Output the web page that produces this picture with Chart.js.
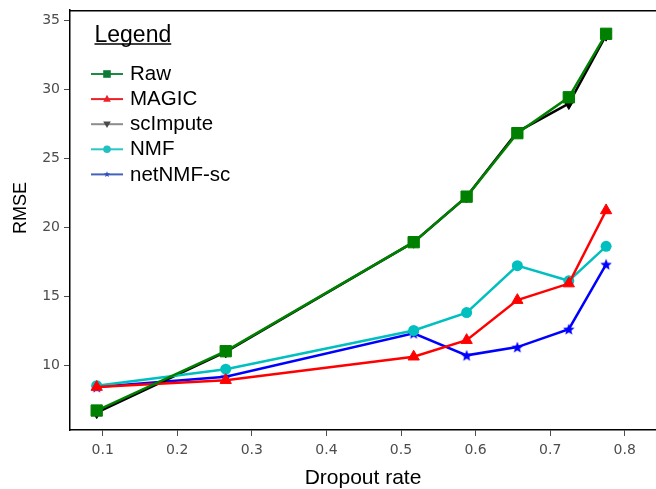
<!DOCTYPE html>
<html>
<head>
<meta charset="utf-8">
<script src="https://cdn.jsdelivr.net/npm/chart.js@4/dist/chart.umd.min.js"></script>
<style>
  html, body { margin: 0; padding: 0; background: #ffffff; }
  #wrap { width: 656px; height: 489px; position: relative; }
</style>
</head>
<body>
<div id="wrap"><canvas id="chart" width="656" height="489"></canvas></div>
<script>
// Dropout rates on the x axis
const dropoutRate = [0.092, 0.265, 0.517, 0.588, 0.656, 0.725, 0.775];

// RMSE for each method at each dropout rate
const rawRmse      = [6.7, 11.0, 18.9, 22.2, 26.8, 29.4, 34.0];
const magicRmse    = [8.4, 8.9, 10.6, 11.8, 14.7, 15.9, 21.2];
const scImputeRmse = [6.55, 10.95, 18.9, 22.2, 26.9, 28.95, 33.9];
const nmfRmse      = [8.5, 9.7, 12.5, 13.8, 17.2, 16.1, 18.6];
const netNmfRmse   = [8.4, 9.15, 12.3, 10.7, 11.3, 12.6, 17.3];

const methodNames = ['Raw', 'MAGIC', 'scImpute', 'NMF', 'netNMF-sc'];

const xTicks = [0.1, 0.2, 0.3, 0.4, 0.5, 0.6, 0.7, 0.8];
const yTicks = [10, 15, 20, 25, 30, 35];

const toPoints = (vals) => dropoutRate.map((x, i) => ({ x: x, y: vals[i] }));

// filled five-pointed star marker
function starPath(ctx, cx, cy, outer, inner) {
  ctx.beginPath();
  for (let i = 0; i < 10; i++) {
    const r = i % 2 === 0 ? outer : inner;
    const a = -Math.PI / 2 + i * Math.PI / 5;
    const px = cx + r * Math.cos(a), py = cy + r * Math.sin(a);
    if (i === 0) ctx.moveTo(px, py); else ctx.lineTo(px, py);
  }
  ctx.closePath();
}
function starImage(color, outer) {
  const c = document.createElement('canvas');
  const s = Math.ceil(outer * 2 + 4);
  c.width = s; c.height = s;
  const g = c.getContext('2d');
  starPath(g, s / 2, s / 2 + outer * 0.1, outer, outer * 0.45);
  g.fillStyle = color;
  g.fill();
  return c;
}

const datasets = [
  { label: methodNames[0], data: toPoints(rawRmse), borderColor: '#008000', backgroundColor: '#008000',
    pointStyle: 'rect', pointRadius: 8, pointBorderWidth: 1, order: 0 },
  { label: methodNames[1], data: toPoints(magicRmse), borderColor: '#ff0000', backgroundColor: '#ff0000',
    pointStyle: 'triangle', pointRadius: 6.5, pointBorderWidth: 1, order: 1 },
  { label: methodNames[2], data: toPoints(scImputeRmse), borderColor: '#000000', backgroundColor: '#000000',
    pointStyle: 'triangle', pointRotation: 180, pointRadius: 6, pointBorderWidth: 1, order: 3 },
  { label: methodNames[3], data: toPoints(nmfRmse), borderColor: '#00bfbf', backgroundColor: '#00bfbf',
    pointStyle: 'circle', pointRadius: 5.5, pointBorderWidth: 0, order: 2 },
  { label: methodNames[4], data: toPoints(netNmfRmse), borderColor: '#0000ff', backgroundColor: '#0000ff',
    pointStyle: starImage('#0000ff', 6), pointRadius: 6, pointBorderWidth: 0, order: 4 }
];
datasets.forEach(d => { d.borderWidth = 2.5; d.tension = 0; d.fill = false; });

// legend styling (drawn in the upper-left corner of the plot)
const legendStyle = [
  { line: '#1f8a45', marker: '#0d7a36', shape: 'square' },
  { line: '#ee2027', marker: '#ee2027', shape: 'triangle' },
  { line: '#8c8c8c', marker: '#4a4a4a', shape: 'down' },
  { line: '#2cc7c7', marker: '#22c0c0', shape: 'circle' },
  { line: '#4262bd', marker: '#2f4fbf', shape: 'star' }
];

const framePlugin = {
  id: 'frameAndLegend',
  afterDraw(chart) {
    const { ctx, chartArea } = chart;
    ctx.save();
    // top frame line
    ctx.strokeStyle = '#000';
    ctx.lineWidth = 1.5;
    ctx.beginPath();
    ctx.moveTo(chartArea.left, chartArea.top + 0.75);
    ctx.lineTo(chartArea.right, chartArea.top + 0.75);
    ctx.stroke();

    // y axis title
    ctx.save();
    ctx.translate(21, 208);
    ctx.rotate(-Math.PI / 2);
    ctx.fillStyle = '#000';
    ctx.font = '18px "Liberation Sans", Arial, sans-serif';
    ctx.textAlign = 'center';
    ctx.textBaseline = 'middle';
    ctx.fillText('RMSE', 0, 0);
    ctx.restore();

    // legend title
    ctx.fillStyle = '#000';
    ctx.font = '23px "Liberation Sans", Arial, sans-serif';
    ctx.textBaseline = 'alphabetic';
    ctx.textAlign = 'left';
    const tx = 94.5, ty = 41.5;
    ctx.fillText('Legend', tx, ty);
    const tw = ctx.measureText('Legend').width;
    ctx.lineWidth = 1.5;
    ctx.beginPath();
    ctx.moveTo(tx, ty + 2.5);
    ctx.lineTo(tx + tw, ty + 2.5);
    ctx.stroke();

    // legend rows
    ctx.font = '20.5px "Liberation Sans", Arial, sans-serif';
    ctx.textBaseline = 'middle';
    chart.data.datasets.forEach((ds, i) => {
      const st = legendStyle[i];
      const y = 74 + i * 25.1;
      ctx.strokeStyle = st.line;
      ctx.lineWidth = 2;
      ctx.beginPath();
      ctx.moveTo(91, y);
      ctx.lineTo(123, y);
      ctx.stroke();
      const mx = 107, r = 3.8;
      ctx.fillStyle = st.marker;
      ctx.beginPath();
      if (st.shape === 'square') {
        ctx.rect(mx - r, y - r, 2 * r, 2 * r);
      } else if (st.shape === 'triangle') {
        ctx.moveTo(mx, y - r - 0.5); ctx.lineTo(mx + r, y + r * 0.7); ctx.lineTo(mx - r, y + r * 0.7); ctx.closePath();
      } else if (st.shape === 'down') {
        ctx.moveTo(mx, y + r); ctx.lineTo(mx + r, y - r * 0.7); ctx.lineTo(mx - r, y - r * 0.7); ctx.closePath();
      } else if (st.shape === 'circle') {
        ctx.arc(mx, y, r, 0, Math.PI * 2);
      } else {
        starPath(ctx, mx, y, 3.2, 1.4);
      }
      ctx.fill();
      ctx.fillStyle = '#000';
      ctx.fillText(ds.label, 130, y + 0.5);
    });
    ctx.restore();
  }
};

const tickFont = { family: '"DejaVu Sans", sans-serif', size: 14 };
const titleFont = { family: '"Liberation Sans", Arial, sans-serif', size: 21, lineHeight: 1 };

new Chart(document.getElementById('chart'), {
  type: 'line',
  data: { datasets: datasets },
  options: {
    responsive: false,
    animation: false,
    events: [],
    layout: { autoPadding: false, padding: { top: 10, left: 0, right: 0, bottom: 0 } },
    plugins: { legend: { display: false }, tooltip: { enabled: false } },
    scales: {
      x: {
        type: 'linear', position: 'bottom',
        min: 0.0562, max: 0.8419,
        afterBuildTicks: (s) => { s.ticks = xTicks.map(v => ({ value: v })); },
        ticks: { callback: (v) => Number(v).toFixed(1), font: tickFont, color: '#4d4d4d', padding: 6, maxRotation: 0, autoSkip: false },
        grid: { display: true, drawOnChartArea: false, drawTicks: true, tickLength: 6, tickColor: '#4d4d4d', tickWidth: 1 },
        border: { display: true, color: '#000', width: 1.5 },
        title: { display: true, text: 'Dropout rate', font: titleFont, color: '#000', padding: { top: 0, bottom: 0 } },
        afterFit: (s) => { s.height = 59; s.paddingLeft = 0; s.paddingRight = 0; }
      },
      y: {
        type: 'linear', position: 'left',
        min: 5.29, max: 35.725,
        afterBuildTicks: (s) => { s.ticks = yTicks.map(v => ({ value: v })); },
        ticks: { font: tickFont, color: '#4d4d4d', padding: 4, autoSkip: false },
        grid: { display: true, drawOnChartArea: false, drawTicks: true, tickLength: 6, tickColor: '#4d4d4d', tickWidth: 1 },
        border: { display: true, color: '#000', width: 1.5 },
        title: { display: false },
        afterFit: (s) => { s.width = 70; s.paddingTop = 0; s.paddingBottom = 0; }
      }
    }
  },
  plugins: [framePlugin]
});
</script>
</body>
</html>
